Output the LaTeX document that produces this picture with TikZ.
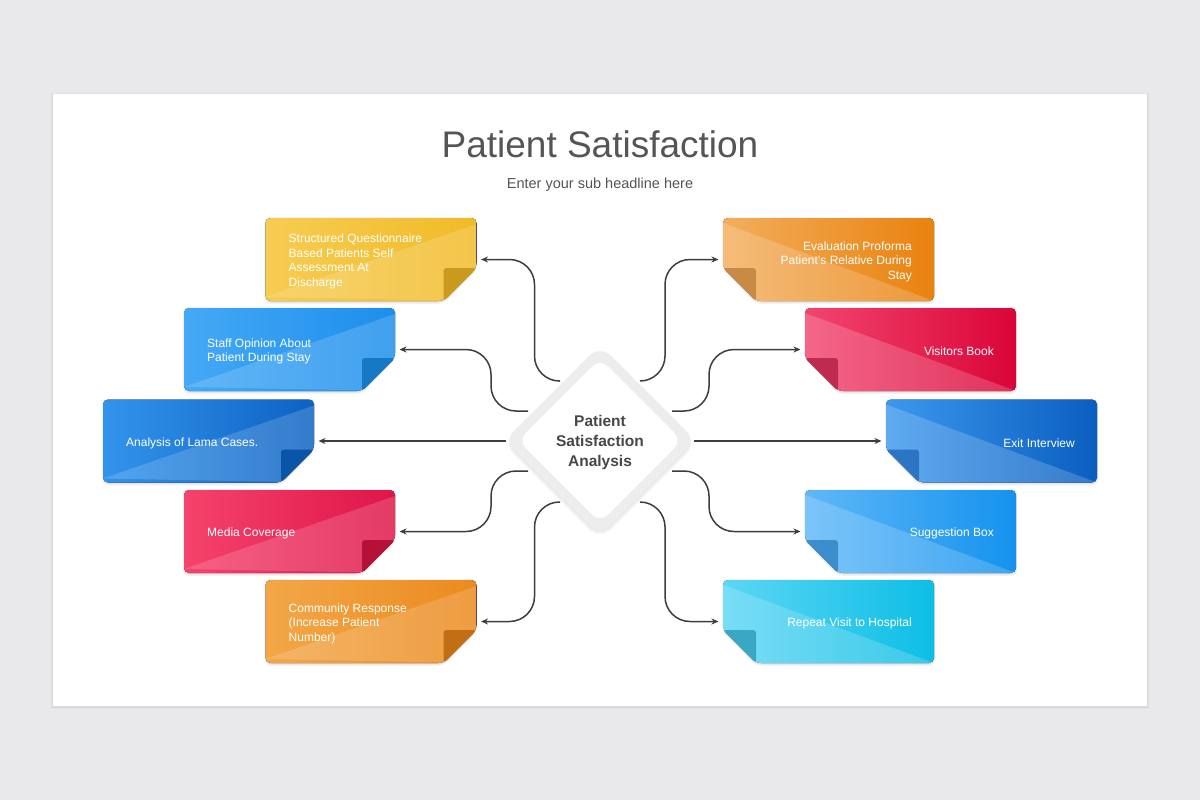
\documentclass[tikz,border=0pt]{standalone}
\usepackage{fontspec}
\setmainfont{Liberation Sans}
\usetikzlibrary{calc,arrows.meta}
\definecolor{bgc}{HTML}{E9E8EA}
\definecolor{titlec}{HTML}{555555}
\definecolor{linec}{HTML}{3D3D3D}
\definecolor{ringc}{HTML}{EDEDED}
\definecolor{centc}{HTML}{474747}
\tikzset{
  cardgeom/.style={minimum width=211pt, minimum height=83pt, inner sep=0pt, outer sep=0pt},
  ctext/.style={text=white, font=\fontsize{12}{14.5}\selectfont, inner sep=0pt},
  shd/.style={black, opacity=#1},
  conn/.style={draw=linec, line width=1.5pt, rounded corners=25pt, -{Stealth[length=7pt,width=6pt]}},
}
\newcommand\cardL[7]{%
  \definecolor{cA}{HTML}{#4}\definecolor{cB}{HTML}{#5}\definecolor{cF}{HTML}{#6}%
  \node[cardgeom] (#1) at (#2,#3) {};
  \fill[shd=.05, rounded corners=6pt] ([xshift=-1pt]#1.west) -- ([xshift=-1pt,yshift=1pt]#1.north west) -- ([xshift=1pt,yshift=1pt]#1.north east) -- ([xshift=1pt,yshift=33pt]#1.south east) -- ([xshift=-33pt,yshift=-3pt]#1.south east) -- ([xshift=-1pt,yshift=-3pt]#1.south west) -- cycle;
  \fill[shd=.05, rounded corners=5pt] ([yshift=-1.5pt]#1.west) -- ([yshift=-1.5pt]#1.north west) -- ([yshift=-1.5pt]#1.north east) -- ([yshift=31.5pt]#1.south east) -- ([xshift=-33pt,yshift=-1.5pt]#1.south east) -- ([yshift=-1.5pt]#1.south west) -- cycle;
  \fill[left color=cA, right color=cB, rounded corners=5pt] (#1.west) -- (#1.north west) -- (#1.north east) -- ([yshift=33pt]#1.south east) -- ([xshift=-33pt]#1.south east) -- (#1.south west) -- cycle;
  \begin{scope}
    \clip[rounded corners=5pt] (#1.west) -- (#1.north west) -- (#1.north east) -- ([yshift=33pt]#1.south east) -- ([xshift=-33pt]#1.south east) -- (#1.south west) -- cycle;
    \fill[white, opacity=.16] ([yshift=4pt]#1.south west) -- ([yshift=-6pt]#1.north east) -- (#1.south east) -- cycle;
  \end{scope}
  \fill[cF, rounded corners=3pt] ([xshift=-33pt]#1.south east) -- ([xshift=-33pt,yshift=33pt]#1.south east) -- ([yshift=33pt]#1.south east) -- cycle;
  \node[ctext, anchor=west, align=left] (#1t) at ([xshift=23pt,yshift=-2pt]#1.west) {#7};
}
\newcommand\cardR[7]{%
  \definecolor{cA}{HTML}{#4}\definecolor{cB}{HTML}{#5}\definecolor{cF}{HTML}{#6}%
  \node[cardgeom] (#1) at (#2,#3) {};
  \fill[shd=.05, rounded corners=6pt] ([xshift=1pt]#1.east) -- ([xshift=1pt,yshift=1pt]#1.north east) -- ([xshift=-1pt,yshift=1pt]#1.north west) -- ([xshift=-1pt,yshift=33pt]#1.south west) -- ([xshift=33pt,yshift=-3pt]#1.south west) -- ([xshift=1pt,yshift=-3pt]#1.south east) -- cycle;
  \fill[shd=.05, rounded corners=5pt] ([yshift=-1.5pt]#1.east) -- ([yshift=-1.5pt]#1.north east) -- ([yshift=-1.5pt]#1.north west) -- ([yshift=31.5pt]#1.south west) -- ([xshift=33pt,yshift=-1.5pt]#1.south west) -- ([yshift=-1.5pt]#1.south east) -- cycle;
  \fill[left color=cA, right color=cB, rounded corners=5pt] (#1.east) -- (#1.north east) -- (#1.north west) -- ([yshift=33pt]#1.south west) -- ([xshift=33pt]#1.south west) -- (#1.south east) -- cycle;
  \begin{scope}
    \clip[rounded corners=5pt] (#1.east) -- (#1.north east) -- (#1.north west) -- ([yshift=33pt]#1.south west) -- ([xshift=33pt]#1.south west) -- (#1.south east) -- cycle;
    \fill[white, opacity=.18] ([yshift=-5pt]#1.north west) -- (#1.south east) -- (#1.south west) -- cycle;
  \end{scope}
  \fill[cF, rounded corners=3pt] ([xshift=33pt]#1.south west) -- ([xshift=33pt,yshift=33pt]#1.south west) -- ([yshift=33pt]#1.south west) -- cycle;
  \node[ctext, anchor=east, align=right] (#1t) at ([xshift=-22pt,yshift=-2pt]#1.east) {#7};
}
\begin{document}
\begin{tikzpicture}[x=1pt,y=-1pt]
\useasboundingbox (0,0) rectangle (1200,800);
\fill[bgc] (0,0) rectangle (1200,800);
\fill[shd=.03] (51,93) rectangle (1149,709);
\fill[shd=.03] (52,94) rectangle (1148,708);
\fill[white] (53,94) rectangle (1147,706);

% title
\node[text=titlec, font=\fontsize{37}{44}\selectfont, anchor=base, inner sep=0pt] (title) at (600,157) {Patient Satisfaction};
\node[text=titlec, font=\fontsize{14.5}{17}\selectfont, anchor=base, inner sep=0pt] (sub) at (600,188.5) {Enter your sub headline here};

% cards left
\cardL{c1}{371}{259.5}{F7CC52}{F1BB28}{C99A1B}{Structured Questionnaire\\Based Patients Self\\Assessment At\\Discharge}
\cardL{c2}{289.5}{349.5}{45A9F5}{1C8EEC}{1778C6}{Staff Opinion About\\Patient During Stay}
\cardL{c3}{208.5}{441}{3394EC}{0D62C2}{0B55A8}{Analysis of Lama Cases.}
\cardL{c4}{289.5}{531.5}{F5436C}{DF1549}{B51038}{Media Coverage}
\cardL{c5}{371}{621.5}{F3A748}{EB8A1E}{C26E14}{Community Response\\(Increase Patient\\Number)}
% cards right
\cardR{d1}{828.5}{259.5}{F3AE5C}{E9820F}{C98A45}{Evaluation Proforma\\Patient's Relative During\\Stay}
\cardR{d2}{910.5}{349.5}{F2456E}{DA0538}{BF2A50}{Visitors Book}
\cardR{d3}{991.5}{441}{3C98EE}{0A5EBF}{2C75C2}{Exit Interview}
\cardR{d4}{910.5}{531.5}{5FB8F8}{1592EE}{3C8DCB}{Suggestion Box}
\cardR{d5}{828.5}{621.5}{5DD6F5}{0DBEE5}{3AA7C4}{Repeat Visit to Hospital}

% connector start points
\coordinate (dia) at (600,440.5);
\coordinate (a1) at (560,381);
\coordinate (a2) at (528,411);
\coordinate (a3) at (506,441);
\coordinate (a4) at (528,471);
\coordinate (a5) at (560,502);
\coordinate (b1) at (640,381);
\coordinate (b2) at (672,411);
\coordinate (b3) at (694,441);
\coordinate (b4) at (672,471);
\coordinate (b5) at (640,502);

\draw[conn] (a1) -| ([xshift=58pt]c1.east) -- ([xshift=4.5pt]c1.east);
\draw[conn] (a2) -| ([xshift=96pt]c2.east) -- ([xshift=4.5pt]c2.east);
\draw[conn] (a3) -- ([xshift=4.5pt]c3.east);
\draw[conn] (a4) -| ([xshift=96pt]c4.east) -- ([xshift=4.5pt]c4.east);
\draw[conn] (a5) -| ([xshift=58pt]c5.east) -- ([xshift=4.5pt]c5.east);
\draw[conn] (b1) -| ([xshift=-58pt]d1.west) -- ([xshift=-4.5pt]d1.west);
\draw[conn] (b2) -| ([xshift=-96pt]d2.west) -- ([xshift=-4.5pt]d2.west);
\draw[conn] (b3) -- ([xshift=-4.5pt]d3.west);
\draw[conn] (b4) -| ([xshift=-96pt]d4.west) -- ([xshift=-4.5pt]d4.west);
\draw[conn] (b5) -| ([xshift=-58pt]d5.west) -- ([xshift=-4.5pt]d5.west);

% center diamond
\fill[shd=.04, rounded corners=16pt]
  ($(dia)+(-49,-47)$) -- ($(dia)+(0,-96)$) -- ($(dia)+(98,2)$) -- ($(dia)+(0,100)$) -- ($(dia)+(-98,2)$) -- cycle;
\fill[shd=.04, rounded corners=15pt]
  ($(dia)+(-48,-46.5)$) -- ($(dia)+(0,-95)$) -- ($(dia)+(96.5,1.5)$) -- ($(dia)+(0,98)$) -- ($(dia)+(-96.5,1.5)$) -- cycle;
\fill[ringc, rounded corners=14pt]
  ($(dia)+(-47.5,-47.5)$) -- ($(dia)+(0,-95)$) -- ($(dia)+(95,0)$) -- ($(dia)+(0,95)$) -- ($(dia)+(-95,0)$) -- cycle;
\fill[white, rounded corners=11pt]
  ($(dia)+(-41,-41)$) -- ($(dia)+(0,-82)$) -- ($(dia)+(82,0)$) -- ($(dia)+(0,82)$) -- ($(dia)+(-82,0)$) -- cycle;
\node[text=centc, font=\bfseries\fontsize{15.5}{20}\selectfont, align=center, inner sep=0pt] (dtext) at ([yshift=-1.5pt]dia) {Patient\\Satisfaction\\Analysis};
\end{tikzpicture}
\end{document}
